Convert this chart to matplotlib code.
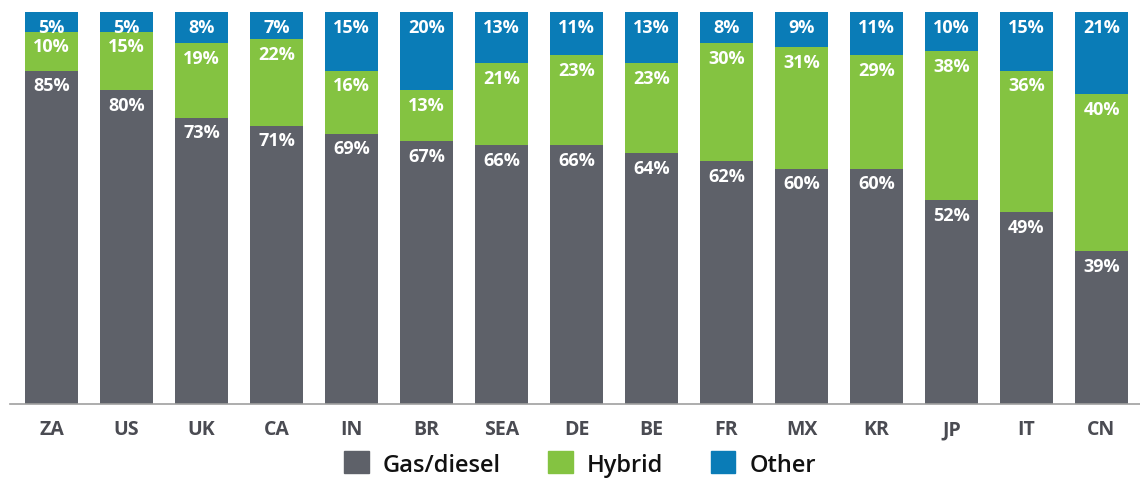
import matplotlib

matplotlib.use("Agg")
import matplotlib.pyplot as plt  # noqa: E402
from matplotlib.patches import Patch  # noqa: E402

plt.rcParams["font.family"] = ["Open Sans", "DejaVu Sans"]

countries = ["ZA", "US", "UK", "CA", "IN", "BR", "SEA", "DE", "BE", "FR",
             "MX", "KR", "JP", "IT", "CN"]
gas = [85, 80, 73, 71, 69, 67, 66, 66, 64, 62, 60, 60, 52, 49, 39]
hybrid = [10, 15, 19, 22, 16, 13, 21, 23, 23, 30, 31, 29, 38, 36, 40]
other = [5, 5, 8, 7, 15, 20, 13, 11, 13, 8, 9, 11, 10, 15, 21]

series_names = ["Gas/diesel", "Hybrid", "Other"]
colors = ["#5e6169", "#84c341", "#0a7cb7"]

fig = plt.figure(figsize=(11.4, 4.81), dpi=100)
ax = fig.add_axes([10 / 1140, 76 / 481, 1130 / 1140, 392 / 481])

x = list(range(len(countries)))
bottom = [0] * len(countries)
for values, color in zip([gas, hybrid, other], colors):
    bars = ax.bar(x, values, width=0.71, bottom=bottom, color=color,
                  clip_on=False)
    for rect, v in zip(bars, values):
        top = rect.get_y() + rect.get_height()
        ax.annotate(f"{v}%", (rect.get_x() + rect.get_width() / 2, top),
                    xytext=(0, -10.5), textcoords="offset points",
                    ha="center", va="center", color="white",
                    fontsize=13, fontweight="bold")
    bottom = [b + v for b, v in zip(bottom, values)]

ax.set_xlim((10 - 51.5) / 75, (1140 - 51.5) / 75)
ax.set_ylim(0, 100)
ax.set_xticks(x)
ax.set_xticklabels(countries, fontsize=14, fontweight="bold",
                   color="#4a4b52")
ax.tick_params(axis="x", length=0, pad=11)
ax.set_yticks([])
for side in ["top", "right", "left"]:
    ax.spines[side].set_visible(False)
ax.spines["bottom"].set_color("#a0a0a0")
ax.spines["bottom"].set_linewidth(1.2)

handles = [Patch(color=c, label=n) for n, c in zip(series_names, colors)]
fig.legend(handles=handles, loc="center",
           bbox_to_anchor=(580 / 1140, 16 / 481),
           ncol=3, frameon=False, handlelength=1.05,
           handleheight=1.05, handletextpad=0.6, columnspacing=2.0,
           prop={"size": 17, "weight": "semibold"}, labelcolor="#111111")

fig.savefig("out.png", dpi=100)
